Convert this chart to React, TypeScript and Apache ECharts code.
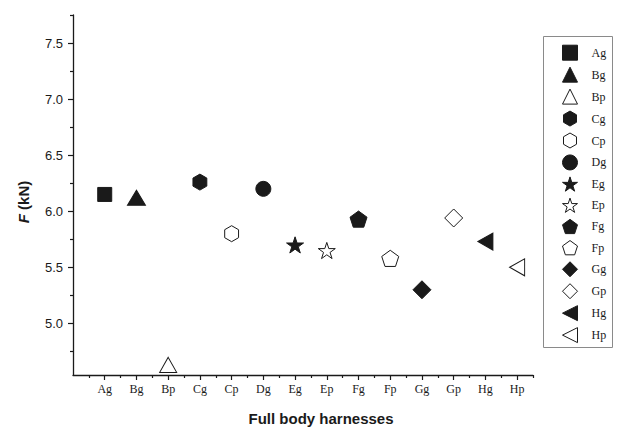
import React, { useEffect, useRef } from "react";
import * as echarts from "echarts";

const categories = ["Ag", "Bg", "Bp", "Cg", "Cp", "Dg", "Eg", "Ep", "Fg", "Fp", "Gg", "Gp", "Hg", "Hp"];
const forceKN = [6.15, 6.12, 4.63, 6.26, 5.8, 6.2, 5.7, 5.65, 5.93, 5.58, 5.3, 5.94, 5.73, 5.5];
const yTickLabels = [5.0, 5.5, 6.0, 6.5, 7.0, 7.5];
const yMinorTicks = [4.75, 5.25, 5.75, 6.25, 6.75, 7.25, 7.75];
const xMajorTicks = categories.map((_, i) => i);
const xMinorTicks = [-0.5, ...categories.map((_, i) => i + 0.5)];

const HEX = "path://M50,0L93.3,25L93.3,75L50,100L6.7,75L6.7,25Z";
const STAR =
  "path://M50,0L61.23,34.55L97.55,34.55L68.16,55.9L79.39,90.45L50,69.1L20.61,90.45L31.84,55.9L2.45,34.55L38.77,34.55Z";
const PENT = "path://M50,0L97.55,34.55L79.39,90.45L20.61,90.45L2.45,34.55Z";
const LTRI = "path://M0,50L100,0L100,100Z";

const markers: { symbol: string; filled: boolean; size: number | number[] }[] = [
  { symbol: "rect", filled: true, size: 14 },
  { symbol: "triangle", filled: true, size: [18, 15] },
  { symbol: "triangle", filled: false, size: [17, 15] },
  { symbol: HEX, filled: true, size: 16 },
  { symbol: HEX, filled: false, size: 16 },
  { symbol: "circle", filled: true, size: 15 },
  { symbol: STAR, filled: true, size: 17 },
  { symbol: STAR, filled: false, size: 17 },
  { symbol: PENT, filled: true, size: 17 },
  { symbol: PENT, filled: false, size: 17 },
  { symbol: "diamond", filled: true, size: 18 },
  { symbol: "diamond", filled: false, size: 18 },
  { symbol: LTRI, filled: true, size: [15, 17] },
  { symbol: LTRI, filled: false, size: [15, 17] },
];

const SANS = "'Liberation Sans', Arial, sans-serif";
const SERIF = "'Liberation Serif', 'Times New Roman', serif";
const INK = "#1a1a1a";

export default function App() {
  const ref = useRef<HTMLDivElement>(null);
  useEffect(() => {
    document.body.style.margin = "0";
    if (!ref.current) return;
    const chart = echarts.init(ref.current, undefined, { renderer: "svg" });
    const minMaxY = { min: 4.54, max: 7.75 };
    const minMaxX = { min: -1, max: 13.5 };
    const series = categories.map((name, i) => {
      const m = markers[i];
      return {
        name,
        type: "scatter",
        xAxisIndex: 0,
        yAxisIndex: 0,
        symbol: m.symbol,
        symbolSize: m.size,
        symbolKeepAspect: !Array.isArray(m.size),
        itemStyle: m.filled
          ? { color: INK, borderColor: INK, borderWidth: 1, opacity: 1 }
          : { color: "#fff", borderColor: INK, borderWidth: 1, opacity: 1 },
        emphasis: { disabled: true },
        data: [[i, forceKN[i]]],
      };
    });
    chart.setOption({
      animation: false,
      backgroundColor: "#fff",
      grid: { left: 73, right: 87, top: 15, bottom: 52, containLabel: false, outerBoundsMode: "none" },
      xAxis: [
        {
          type: "value",
          ...minMaxX,
          position: "bottom",
          axisLine: { show: true, onZero: false, lineStyle: { color: INK, width: 1.3 } },
          axisTick: { show: true, customValues: xMajorTicks, length: 5, lineStyle: { color: INK, width: 1.2 } },
          axisLabel: {
            show: true,
            customValues: xMajorTicks,
            formatter: (v: number) => categories[Math.round(v)] ?? "",
            fontFamily: SERIF,
            fontSize: 12,
            color: INK,
            margin: 8,
          },
          splitLine: { show: false },
        },
        {
          type: "value",
          ...minMaxX,
          position: "bottom",
          axisLine: { show: false, onZero: false },
          axisTick: { show: true, customValues: xMinorTicks, length: 3, lineStyle: { color: INK, width: 1.2 } },
          axisLabel: { show: false },
          splitLine: { show: false },
        },
      ],
      yAxis: [
        {
          type: "value",
          ...minMaxY,
          position: "left",
          name: "{i|F} (kN)",
          nameLocation: "middle",
          nameGap: 42,
          nameTextStyle: {
            fontFamily: SANS,
            fontWeight: "bold",
            fontSize: 15,
            color: INK,
            padding: [0, 14, 0, 0],
            rich: { i: { fontFamily: SANS, fontWeight: "bold", fontStyle: "italic", fontSize: 15, color: INK } },
          },
          axisLine: { show: true, onZero: false, lineStyle: { color: INK, width: 1.3 } },
          axisTick: { show: true, customValues: yTickLabels, length: 5, lineStyle: { color: INK, width: 1.2 } },
          axisLabel: {
            show: true,
            customValues: yTickLabels,
            formatter: (v: number) => v.toFixed(1),
            fontFamily: SANS,
            fontSize: 13,
            color: INK,
            margin: 10,
          },
          splitLine: { show: false },
        },
        {
          type: "value",
          ...minMaxY,
          position: "left",
          axisLine: { show: false, onZero: false },
          axisTick: { show: true, customValues: yMinorTicks, length: 3, lineStyle: { color: INK, width: 1.2 } },
          axisLabel: { show: false },
          splitLine: { show: false },
        },
      ],
      legend: {
        orient: "vertical",
        left: 562,
        top: 44.7,
        padding: 0,
        itemWidth: 15,
        itemHeight: 15,
        itemGap: 5.95,
        selectedMode: false,
        itemStyle: { borderWidth: 1 },
        textStyle: { fontFamily: SERIF, fontSize: 12, color: INK, lineHeight: 15, padding: [0, 0, 0, 9] },
        data: categories,
      },
      graphic: [
        {
          type: "rect",
          shape: { x: 543.5, y: 36.5, width: 69, height: 311 },
          style: { fill: "none", stroke: "#8a8a8a", lineWidth: 1 },
          silent: true,
        },
        {
          type: "text",
          x: 321,
          y: 418,
          style: {
            text: "Full body harnesses",
            fontFamily: SANS,
            fontWeight: "bold",
            fontSize: 15,
            fill: INK,
            textAlign: "center",
            textVerticalAlign: "middle",
          },
          silent: true,
        },
      ],
      series,
    });
    return () => chart.dispose();
  }, []);
  return <div ref={ref} style={{ width: 620, height: 427 }} />;
}
